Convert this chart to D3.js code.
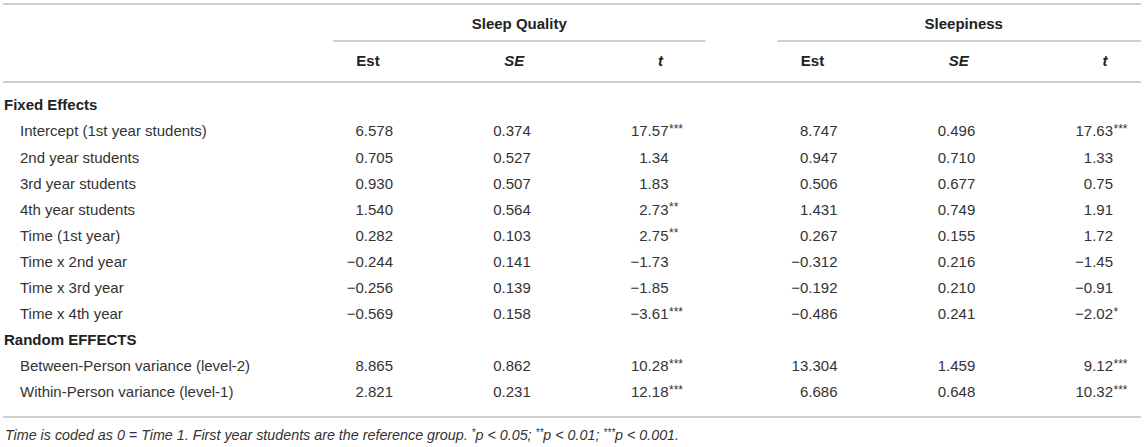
<!DOCTYPE html>
<html>
<head>
<meta charset="utf-8">
<script src="https://cdn.jsdelivr.net/npm/d3@7"></script>
<style>
  body { margin: 0; background: #fff; }
  text { font-family: "Helvetica Neue", "Liberation Sans", Arial, sans-serif; }
</style>
</head>
<body>
<div id="chart"></div>
<script>
// table content

var groupNames = ["Sleep Quality", "Sleepiness"];
var colNames = ["Est", "SE", "t"];
var sectionNames = ["Fixed Effects", "Random EFFECTS"];
var rowLabels = [
    "Intercept (1st year students)", "2nd year students", "3rd year students",
    "4th year students", "Time (1st year)", "Time x 2nd year", "Time x 3rd year",
    "Time x 4th year", "Between-Person variance (level-2)", "Within-Person variance (level-1)"
];
var rowSection = [0, 0, 0, 0, 0, 0, 0, 0, 1, 1];

var sqEst = [6.578, 0.705, 0.930, 1.540, 0.282, -0.244, -0.256, -0.569, 8.865, 2.821];
var sqSE = [0.374, 0.527, 0.507, 0.564, 0.103, 0.141, 0.139, 0.158, 0.862, 0.231];
var sqT = [17.57, 1.34, 1.83, 2.73, 2.75, -1.73, -1.85, -3.61, 10.28, 12.18];
var sqStars = ["***", "", "", "**", "**", "", "", "***", "***", "***"];

var slEst = [8.747, 0.947, 0.506, 1.431, 0.267, -0.312, -0.192, -0.486, 13.304, 6.686];
var slSE = [0.496, 0.710, 0.677, 0.749, 0.155, 0.216, 0.210, 0.241, 1.459, 0.648];
var slT = [17.63, 1.33, 0.75, 1.91, 1.72, -1.45, -0.91, -2.02, 9.12, 10.32];
var slStars = ["***", "", "", "", "", "", "", "*", "***", "***"];

var footnote = ["Time is coded as 0 = Time 1. First year students are the reference group. ",
    ["*", "p < 0.05; "], ["**", "p < 0.01; "], ["***", "p < 0.001."]];

// svg

var w = 1145,
    h = 447,
    left = 3,
    right = 1141,
    lineColor = "#bfbfbf",
    textColor = "#333",
    svg = d3.select("#chart")
            .append("svg")
            .attr("width", w)
            .attr("height", h);

var groups = [
    {name: groupNames[0], cols: [sqEst, sqSE, sqT], stars: sqStars},
    {name: groupNames[1], cols: [slEst, slSE, slT], stars: slStars}
];

// build the list of lines: section header then its rows
var lines = [];
sectionNames.forEach(function(s, si) {
    lines.push({kind: "section", label: s});
    rowLabels.forEach(function(r, i) {
        if (rowSection[i] === si) lines.push({kind: "row", label: r, i: i});
    });
});

// scales
var y = d3.scalePoint()
    .domain(d3.range(lines.length))
    .range([105, 392]);

var gx = d3.scaleBand()
    .domain(groupNames)
    .range([333, 1150])
    .paddingInner(0.162);

var bw = gx.bandwidth();

var hx = d3.scalePoint()
    .domain(colNames)
    .range([35, bw - 45]);

var nx = d3.scalePoint()
    .domain(colNames)
    .range([60, bw - 37]);

var fmt = {Est: d3.format(".3f"), SE: d3.format(".3f"), t: d3.format(".2f")};

// rules
function rule(x1, x2, yy) {
    svg.append("line")
        .attr("x1", x1).attr("x2", x2)
        .attr("y1", yy).attr("y2", yy)
        .attr("stroke", lineColor)
        .attr("stroke-width", 1.6);
}
rule(left, right, 4);
rule(left, right, 82);
rule(left, right, 417);

// group headers
groups.forEach(function(g) {
    var x0 = gx(g.name);
    rule(x0, Math.min(x0 + bw, right), 41);
    svg.append("text")
        .attr("x", x0 + bw / 2)
        .attr("y", 29)
        .attr("text-anchor", "middle")
        .attr("font-size", "15px")
        .attr("font-weight", "bold")
        .attr("fill", "#222")
        .text(g.name);

    colNames.forEach(function(c) {
        svg.append("text")
            .attr("x", x0 + hx(c))
            .attr("y", 66)
            .attr("text-anchor", "middle")
            .attr("font-size", "15px")
            .attr("font-weight", "bold")
            .attr("font-style", c === "Est" ? "normal" : "italic")
            .attr("fill", "#222")
            .text(c);
    });
});

// row labels
svg.selectAll(".lab")
    .data(lines)
    .enter().append("text")
    .attr("class", "lab")
    .attr("x", function(d) { return d.kind === "section" ? 4 : 20; })
    .attr("y", function(d, i) { return y(i); })
    .attr("dy", "0.36em")
    .attr("font-size", "15px")
    .attr("font-weight", function(d) { return d.kind === "section" ? "bold" : "normal"; })
    .attr("fill", function(d) { return d.kind === "section" ? "#222" : textColor; })
    .text(function(d) { return d.label; });

// numbers
lines.forEach(function(d, li) {
    if (d.kind !== "row") return;
    groups.forEach(function(g) {
        var x0 = gx(g.name);
        colNames.forEach(function(c, ci) {
            var xr = x0 + nx(c);
            svg.append("text")
                .attr("x", xr)
                .attr("y", y(li))
                .attr("dy", "0.36em")
                .attr("text-anchor", "end")
                .attr("font-size", "15px")
                .attr("fill", textColor)
                .text(fmt[c](g.cols[ci][d.i]));
            if (c === "t" && g.stars[d.i]) {
                svg.append("text")
                    .attr("x", xr + 0.5)
                    .attr("y", y(li) + 2)
                    .attr("font-size", "12px")
                    .attr("fill", textColor)
                    .text(g.stars[d.i]);
            }
        });
    });
});

// footnote
var fn = svg.append("text")
    .attr("x", 5)
    .attr("y", 440)
    .attr("font-size", "14.3px")
    .attr("font-style", "italic")
    .attr("fill", textColor);
fn.append("tspan").text(footnote[0]);
footnote.slice(1).forEach(function(p) {
    fn.append("tspan").attr("font-size", "10px").attr("dy", -4).text(p[0]);
    fn.append("tspan").attr("dy", 4).text(p[1]);
});
</script>
</body>
</html>
